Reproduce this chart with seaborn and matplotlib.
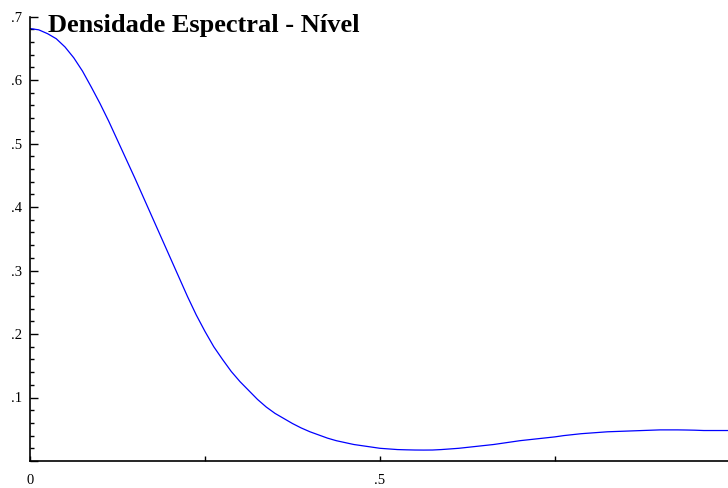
import numpy as np
import pandas as pd
import matplotlib
matplotlib.use("Agg")
import matplotlib.pyplot as plt
import seaborn as sns

# frequency and spectral density
freq = [0.0, 0.0125, 0.025, 0.0375, 0.05, 0.0625, 0.075, 0.0875, 0.1, 0.1125,
        0.125, 0.1375, 0.15, 0.1625, 0.175, 0.1875, 0.2, 0.2125, 0.225, 0.2375,
        0.25, 0.2625, 0.275, 0.2875, 0.3, 0.3125, 0.325, 0.3375, 0.35, 0.3625,
        0.375, 0.3875, 0.4, 0.4125, 0.425, 0.4375, 0.45, 0.4625, 0.475, 0.4875,
        0.5, 0.5125, 0.525, 0.5375, 0.55, 0.5625, 0.575, 0.5875, 0.6, 0.6125,
        0.625, 0.6375, 0.65, 0.6625, 0.675, 0.6875, 0.7, 0.7125, 0.725, 0.7375,
        0.75, 0.7625, 0.775, 0.7875, 0.8, 0.8125, 0.825, 0.8375, 0.85, 0.8625,
        0.875, 0.8875, 0.9, 0.9125, 0.925, 0.9375, 0.95, 0.9625, 0.975, 0.9875, 1.0]
density = [0.681, 0.679, 0.673, 0.665, 0.652, 0.635, 0.614, 0.589, 0.563, 0.535,
           0.505, 0.475, 0.445, 0.414, 0.383, 0.352, 0.321, 0.290, 0.259, 0.230,
           0.204, 0.180, 0.160, 0.141, 0.125, 0.111, 0.097, 0.085, 0.075, 0.067,
           0.059, 0.052, 0.046, 0.041, 0.036, 0.032, 0.029, 0.026, 0.024, 0.022,
           0.020, 0.019, 0.018, 0.0176, 0.0173, 0.0172, 0.0173, 0.018, 0.019, 0.020,
           0.0215, 0.023, 0.0245, 0.026, 0.028, 0.030, 0.032, 0.0335, 0.035, 0.0365,
           0.038, 0.040, 0.0415, 0.043, 0.044, 0.045, 0.046, 0.0465, 0.047, 0.0475,
           0.048, 0.0485, 0.049, 0.049, 0.049, 0.0488, 0.0485, 0.048, 0.048, 0.048, 0.048]

x_ticks = [0, 0.25, 0.5, 0.75]
x_labels = ["0", "", ".5", ""]
y_ticks = [0, 0.1, 0.2, 0.3, 0.4, 0.5, 0.6, 0.7]
y_labels = ["", ".1", ".2", ".3", ".4", ".5", ".6", ".7"]

df = pd.DataFrame({"freq": freq, "density": density})

sns.set_style("ticks")
plt.rcParams["font.family"] = ["Liberation Serif", "DejaVu Serif"]

fig = plt.figure(figsize=(7.28, 4.88), dpi=100)
ax = fig.add_axes([30 / 728, 27 / 488, 698 / 728, 444.5 / 488])

sns.lineplot(data=df, x="freq", y="density", ax=ax, color="#0000ff", linewidth=0.9)

ax.set_xlim(0, 698 / 700)
ax.set_ylim(0, 0.7)
ax.set_xticks(x_ticks)
ax.set_xticklabels(x_labels)
ax.set_yticks(y_ticks)
ax.set_yticklabels(y_labels)
ax.set_yticks(np.arange(0, 0.7001, 0.02), minor=True)
ax.tick_params(axis="y", which="major", direction="in", length=6, width=1, pad=6,
               labelsize=10.5, colors="black")
ax.tick_params(axis="y", which="minor", direction="in", length=3, width=1, colors="black")
ax.tick_params(axis="x", which="major", direction="in", length=3.5, width=1, pad=9,
               labelsize=10.5, colors="black")
ax.set_xlabel("")
ax.set_ylabel("")
for s in ["top", "right"]:
    ax.spines[s].set_visible(False)
for s in ["left", "bottom"]:
    ax.spines[s].set_linewidth(1.2)
    ax.spines[s].set_color("black")

fig.text(48 / 728, 1 - 32 / 488, "Densidade Espectral - Nível", fontsize=19,
         fontweight="bold", va="baseline", ha="left", color="black")

fig.savefig("out.png", dpi=100)
